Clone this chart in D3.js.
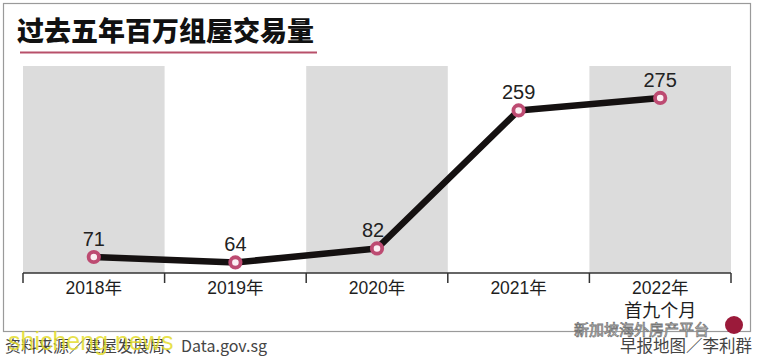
<!DOCTYPE html>
<html><head><meta charset="utf-8">
<script src="https://cdn.jsdelivr.net/npm/d3@7"></script>
<style>
body{margin:0;background:#fff;}
svg{display:block;font-family:"Noto Sans CJK SC","Liberation Sans",sans-serif;}
</style></head>
<body>
<script>
const categories = ["2018年","2019年","2020年","2021年","2022年"];
const subLabels = ["","","","","首九个月"];
const values = [71, 64, 82, 259, 275];
const shaded = [true, false, true, false, true];
const title = "过去五年百万组屋交易量";
const source = "资料来源／建屋发展局、Data.gov.sg";
const credit = "早报地图／李利群";

const W = 757, H = 358;
const svg = d3.select("body").append("svg").attr("width", W).attr("height", H);

// frame
svg.append("rect").attr("x",3.5).attr("y",3.5).attr("width",747).attr("height",328)
  .attr("fill","none").attr("stroke","#9a9a9a").attr("stroke-width",1.2);

// title
svg.append("text").attr("x",17).attr("y",41).text(title)
  .attr("font-size",27).attr("font-weight",900).attr("fill","#111");
svg.append("line").attr("x1",20).attr("x2",317).attr("y1",52.5).attr("y2",52.5)
  .attr("stroke","#b8506a").attr("stroke-width",2);

const x = d3.scaleBand().domain(categories).range([23, 731]).padding(0);
const y = d3.scaleLinear().domain([50.5, 316]).range([273, 66]);

// shaded bands
svg.append("g").selectAll("rect").data(categories.filter((c,i)=>shaded[i])).join("rect")
  .attr("x", d => x(d)).attr("width", x.bandwidth())
  .attr("y", y(316)).attr("height", y(50.5) - y(316))
  .attr("fill", "#dcdcdc");

// axis
const axis = d3.axisBottom(x).tickSize(0).tickFormat("");
const ag = svg.append("g").attr("transform","translate(0,273)").call(axis);
ag.select(".domain").remove();
svg.append("line").attr("x1",23).attr("x2",731).attr("y1",273).attr("y2",273)
  .attr("stroke","#333").attr("stroke-width",1.5);
const bounds = categories.map(c => x(c)).concat([x(categories[categories.length-1]) + x.bandwidth()]);
svg.append("g").selectAll("line").data(bounds).join("line")
  .attr("x1", d=>d).attr("x2", d=>d).attr("y1",273).attr("y2",283)
  .attr("stroke","#333").attr("stroke-width",1.5);
svg.append("g").selectAll("text").data(categories).join("text")
  .attr("x", d => x(d) + x.bandwidth()/2).attr("y", 294)
  .attr("text-anchor","middle").attr("font-size",17.5).attr("fill","#1e1e1e")
  .attr("font-family","'Liberation Sans','Noto Sans CJK SC',sans-serif")
  .text(d => d);
svg.append("g").selectAll("text").data(subLabels).join("text")
  .attr("x", (d,i) => x(categories[i]) + x.bandwidth()/2).attr("y", 317)
  .attr("text-anchor","middle").attr("font-size",18).attr("fill","#1e1e1e")
  .text(d => d);

// line
const pts = categories.map((c,i) => [x(c) + x.bandwidth()/2, y(values[i])]);
svg.append("path").datum(pts).attr("d", d3.line())
  .attr("fill","none").attr("stroke","#151111").attr("stroke-width",6.5).attr("stroke-linejoin","round");

svg.append("g").selectAll("circle").data(pts).join("circle")
  .attr("cx", d=>d[0]).attr("cy", d=>d[1]).attr("r",5.2)
  .attr("fill","#fbeff3").attr("stroke","#bd4b72").attr("stroke-width",3.8);

// value labels
const dx = [0, 0, -4, 0, 0];
svg.append("g").selectAll("text").data(values).join("text")
  .attr("x", (d,i) => pts[i][0] + dx[i]).attr("y", (d,i) => pts[i][1] - 11)
  .attr("text-anchor","middle").attr("font-size",20).attr("fill","#222")
  .attr("font-family","'Liberation Sans',sans-serif")
  .text(d => d);

// source & credit
svg.append("text").attr("x",5).attr("y",352).attr("font-size",16).attr("fill","#444").text(source);
svg.append("text").attr("x",752).attr("y",352).attr("text-anchor","end").attr("font-size",16.5).attr("fill","#444").text(credit);

// watermarks
svg.append("text").attr("x",574).attr("y",335).attr("font-size",15).attr("fill","#fff")
  .attr("stroke","#777").attr("stroke-width",0.8).text("新加坡海外房产平台");
svg.append("circle").attr("cx",734).attr("cy",325).attr("r",9).attr("fill","#9b1a3a");
svg.append("text").attr("x",8).attr("y",350).attr("font-size",25).attr("fill","#e3dc2c")
  .attr("fill-opacity",0.85).attr("font-family","'Liberation Sans',sans-serif")
  .text("shicheng.news");
</script>
</body></html>
